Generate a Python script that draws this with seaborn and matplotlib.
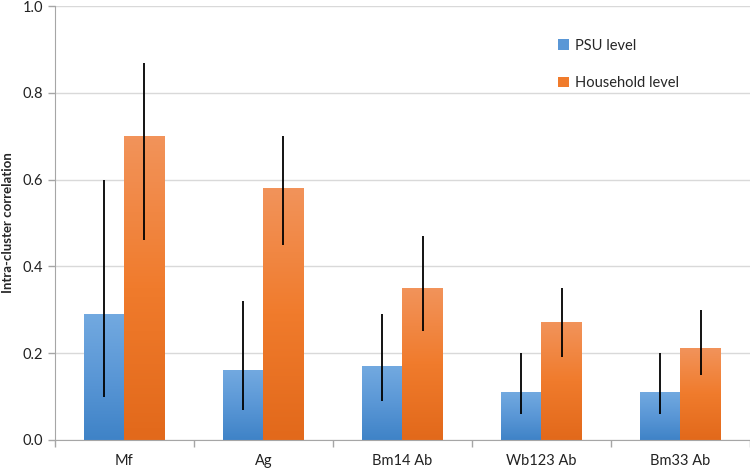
import numpy as np
import pandas as pd
import matplotlib
matplotlib.use('Agg')
import matplotlib.pyplot as plt
from matplotlib.colors import LinearSegmentedColormap
from matplotlib.patches import Patch
import seaborn as sns

categories = ['Mf', 'Ag', 'Bm14 Ab', 'Wb123 Ab', 'Bm33 Ab']
levels = ['PSU level', 'Household level']
psu = [0.29, 0.16, 0.17, 0.11, 0.11]
psu_lo = [0.10, 0.07, 0.09, 0.06, 0.06]
psu_hi = [0.60, 0.32, 0.29, 0.20, 0.20]
hh = [0.70, 0.58, 0.35, 0.27, 0.21]
hh_lo = [0.46, 0.45, 0.25, 0.19, 0.15]
hh_hi = [0.87, 0.70, 0.47, 0.35, 0.30]

df = pd.DataFrame({
    'cat': categories * 2,
    'level': [levels[0]] * 5 + [levels[1]] * 5,
    'icc': psu + hh,
    'lo': psu_lo + hh_lo,
    'hi': psu_hi + hh_hi,
})

sns.set_style('white')
plt.rcParams['font.family'] = ['Lato', 'DejaVu Sans']

fig = plt.figure(figsize=(7.5, 4.7), dpi=100)
ax = fig.add_axes([0.073, 0.064, 0.927, 0.923])

# colours: (top, middle, bottom) of the gradient
grads = {levels[0]: ('#72a9e0', '#5a97d6', '#3f83c7'),
         levels[1]: ('#f2935a', '#f07b2c', '#e2691b')}

sns.barplot(data=df, x='cat', y='icc', hue='level', order=categories, hue_order=levels,
            palette=[grads[l][2] for l in levels], width=0.58, gap=0, errorbar=None,
            saturation=1, legend=False, ax=ax)

# replace flat fills with vertical gradients and add interval lines
for lvl, cont in zip(levels, ax.containers):
    cmap = LinearSegmentedColormap.from_list(lvl, grads[lvl][::-1])
    sub = df[df.level == lvl].set_index('cat').loc[categories]
    for bar, (_, row) in zip(cont, sub.iterrows()):
        x0, w, h = bar.get_x(), bar.get_width(), bar.get_height()
        ax.imshow(np.linspace(0, 1, 100).reshape(-1, 1), cmap=cmap, aspect='auto',
                  extent=[x0, x0 + w, 0, h], origin='lower', zorder=2)
        bar.set_visible(False)
        ax.vlines(x0 + w / 2, row.lo, row.hi, color='black', lw=1.3, zorder=3)

ax.set_xlim(-0.5, len(categories) - 0.5)
ax.set_ylim(0, 1.0)
ax.set_yticks(np.arange(0, 1.01, 0.2))
ax.yaxis.set_major_formatter(matplotlib.ticker.FormatStrFormatter('%.1f'))
ax.yaxis.grid(True, color='#d9d9d9', lw=1)
ax.set_axisbelow(True)
ax.set_xticks(np.arange(-0.5, len(categories), 1.0), minor=True)
ax.tick_params(axis='x', which='major', length=0, labelsize=10.5, colors='#222222', pad=10)
ax.tick_params(axis='x', which='minor', length=5, color='#a6a6a6', width=1, direction='out', bottom=True)
ax.tick_params(axis='y', length=5, color='#a6a6a6', width=1, direction='out', left=True,
               labelsize=10.5, colors='#222222')
ax.set_xlabel('')
ax.set_ylabel('Intra-cluster correlation', fontsize=9.5, fontweight='bold', labelpad=6)
sns.despine(ax=ax, top=True, right=True)
for s in ('left', 'bottom'):
    ax.spines[s].set_color('#a6a6a6')

handles = [Patch(facecolor=grads[l][1], edgecolor='none') for l in levels]
ax.legend(handles, levels, loc='upper left', bbox_to_anchor=(0.705, 0.955), frameon=False,
          fontsize=10.5, handlelength=0.75, handleheight=0.75, handletextpad=0.4, labelspacing=1.6)

fig.savefig('out.png', dpi=100)
